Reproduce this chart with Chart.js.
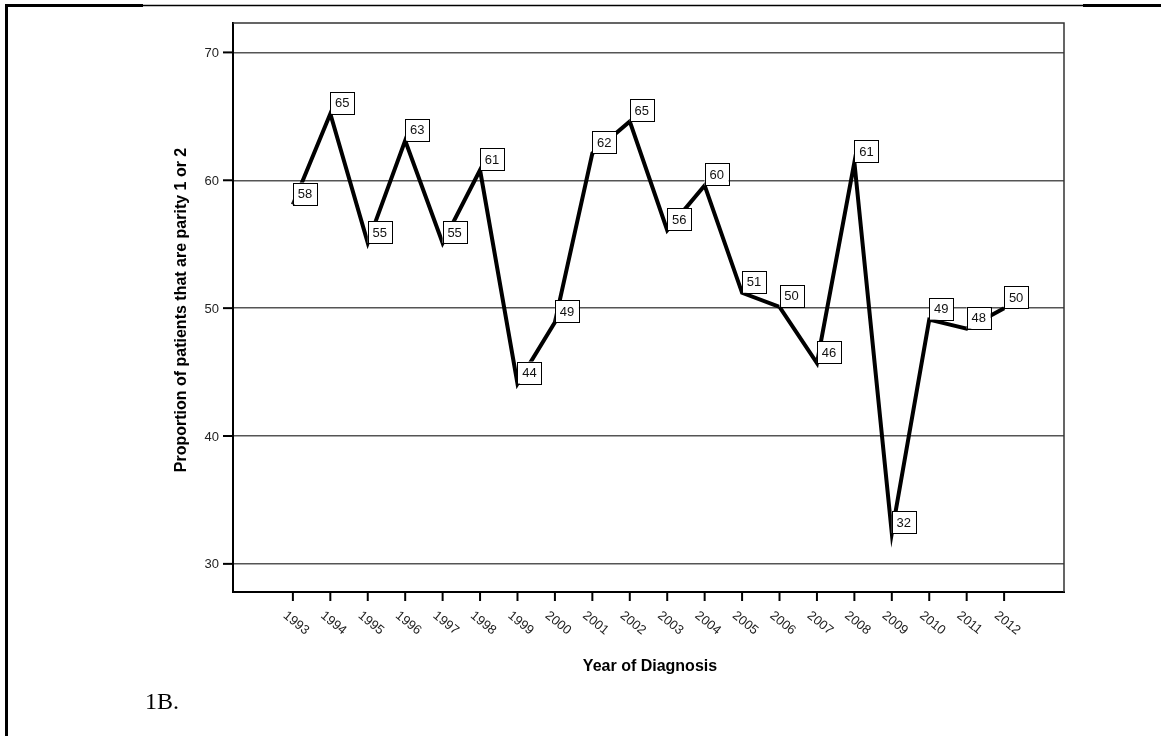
<!DOCTYPE html>
<html>
<head>
<meta charset="utf-8">
<script src="https://cdn.jsdelivr.net/npm/chart.js@4.4.0/dist/chart.umd.min.js"></script>
<style>
  html, body { margin: 0; padding: 0; background: #fff; }
  #wrap { width: 1161px; height: 736px; }
</style>
</head>
<body>
<div id="wrap"><canvas id="chart" width="1161" height="736"></canvas></div>
<script>
// data
const years = ['1993', '1994', '1995', '1996', '1997', '1998', '1999', '2000', '2001', '2002',
               '2003', '2004', '2005', '2006', '2007', '2008', '2009', '2010', '2011', '2012'];
const proportion = [58.1, 65.2, 55.1, 63.1, 55.1, 60.8, 44.1, 48.9, 62.1, 64.6,
                    56.1, 59.6, 51.2, 50.1, 45.7, 61.4, 32.4, 49.1, 48.4, 50.0];
const pointLabels = ['58', '65', '55', '63', '55', '61', '44', '49', '62', '65',
                     '56', '60', '51', '50', '46', '61', '32', '49', '48', '50'];
const yTicks = [30, 40, 50, 60, 70];
const yTitle = 'Proportion of patients that are parity 1 or 2';
const xTitle = 'Year of Diagnosis';
const panelLabel = '1B.';

// extra drawing: frame, ticks, rotated labels, titles, value boxes
const decorations = {
  id: 'decorations',
  afterDatasetsDraw(chart) {
    const ctx = chart.ctx;
    const x = chart.scales.x, y = chart.scales.y;
    ctx.save();
    ctx.font = '13px Arial, "Liberation Sans", sans-serif';
    ctx.textAlign = 'center';
    ctx.textBaseline = 'middle';
    proportion.forEach((v, i) => {
      const px = x.getPixelForValue(i), py = y.getPixelForValue(v);
      const w = 24, h = 22;
      ctx.fillStyle = '#fff';
      ctx.fillRect(px, py - h, w, h);
      ctx.strokeStyle = '#000';
      ctx.lineWidth = 1;
      ctx.strokeRect(Math.round(px) + 0.5, Math.round(py - h) + 0.5, w, h);
      ctx.fillStyle = '#111';
      ctx.fillText(pointLabels[i], px + w / 2, py - h / 2 + 1);
    });
    ctx.restore();
  },
  afterDraw(chart) {
    const ctx = chart.ctx;
    const a = chart.chartArea;
    const x = chart.scales.x, y = chart.scales.y;
    ctx.save();

    // top and right sides of the plot frame
    ctx.strokeStyle = '#333';
    ctx.lineWidth = 1.5;
    ctx.beginPath();
    ctx.moveTo(a.left, a.top);
    ctx.lineTo(a.right, a.top);
    ctx.lineTo(a.right, a.bottom);
    ctx.stroke();

    // y ticks + labels
    ctx.strokeStyle = '#000';
    ctx.lineWidth = 2;
    ctx.fillStyle = '#222';
    ctx.font = '13px Arial, "Liberation Sans", sans-serif';
    ctx.textAlign = 'right';
    ctx.textBaseline = 'middle';
    yTicks.forEach(t => {
      const py = y.getPixelForValue(t);
      ctx.beginPath();
      ctx.moveTo(a.left - 10, py);
      ctx.lineTo(a.left, py);
      ctx.stroke();
      ctx.fillText(String(t), a.left - 14, py + 1);
    });

    // x ticks + rotated labels
    years.forEach((yr, i) => {
      const px = x.getPixelForValue(i);
      ctx.beginPath();
      ctx.moveTo(px, a.bottom);
      ctx.lineTo(px, a.bottom + 9);
      ctx.stroke();
      ctx.save();
      ctx.translate(px - 4, a.bottom + 17);
      ctx.rotate(0.68);
      ctx.textAlign = 'left';
      ctx.textBaseline = 'top';
      ctx.fillText(yr, 0, 0);
      ctx.restore();
    });

    // axis titles
    ctx.fillStyle = '#000';
    ctx.font = 'bold 16px Arial, "Liberation Sans", sans-serif';
    ctx.textAlign = 'center';
    ctx.textBaseline = 'middle';
    ctx.fillText(xTitle, 650, 667);
    ctx.save();
    ctx.translate(182, 310);
    ctx.rotate(-Math.PI / 2);
    ctx.fillText(yTitle, 0, 0);
    ctx.restore();

    // panel label
    ctx.font = '24px "Liberation Serif", "Times New Roman", serif';
    ctx.textAlign = 'left';
    ctx.textBaseline = 'alphabetic';
    ctx.fillText(panelLabel, 145, 709);

    // page border bits
    ctx.strokeStyle = '#000';
    ctx.lineWidth = 1.5;
    ctx.beginPath();
    ctx.moveTo(143, 5.5);
    ctx.lineTo(1083, 5.5);
    ctx.stroke();
    ctx.lineWidth = 3;
    ctx.beginPath();
    ctx.moveTo(5, 5.5);
    ctx.lineTo(143, 5.5);
    ctx.moveTo(1083, 5.5);
    ctx.lineTo(1161, 5.5);
    ctx.moveTo(6.5, 4);
    ctx.lineTo(6.5, 736);
    ctx.stroke();

    ctx.restore();
  }
};

new Chart(document.getElementById('chart'), {
  type: 'line',
  data: {
    datasets: [{
      data: proportion.map((v, i) => ({ x: i, y: v })),
      borderColor: '#000',
      borderWidth: 4,
      borderJoinStyle: 'miter',
      pointRadius: 0,
      tension: 0,
      fill: false
    }]
  },
  options: {
    responsive: false,
    animation: false,
    devicePixelRatio: 1,
    layout: { padding: { left: 233, top: 23, right: 97, bottom: 144 } },
    plugins: { legend: { display: false }, tooltip: { enabled: false } },
    scales: {
      x: {
        type: 'linear',
        min: -1.6,
        max: 20.6,
        grid: { display: false, drawTicks: false },
        border: { display: true, color: '#000', width: 2 },
        ticks: { display: false },
        afterFit(s) { s.height = 0; }
      },
      y: {
        min: 27.8,
        max: 72.3,
        afterBuildTicks(s) { s.ticks = yTicks.map(v => ({ value: v })); },
        grid: { color: '#555', lineWidth: 1.5, drawTicks: false },
        border: { display: true, color: '#000', width: 2 },
        ticks: { display: false },
        afterFit(s) { s.width = 0; }
      }
    }
  },
  plugins: [decorations]
});
</script>
</body>
</html>
